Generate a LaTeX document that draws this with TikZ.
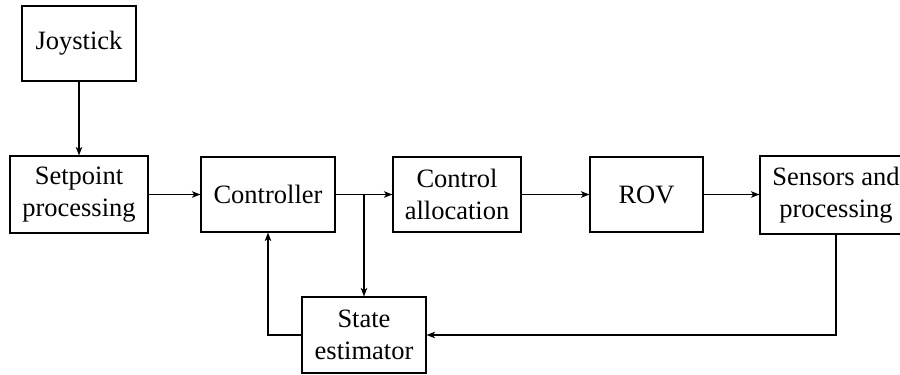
\documentclass[tikz,border=0pt]{standalone}
\usepackage{fontspec}
\setmainfont{Liberation Serif}
\usetikzlibrary{arrows.meta}
\begin{document}
\begin{tikzpicture}[x=0.4pt,y=-0.4pt,
  blk/.style={draw, line width=0.45pt, align=center, inner sep=1pt,
    font=\fontsize{10.6pt}{12.8pt}\selectfont},
  conn/.style={line width=0.45pt, -{Stealth[length=3.4pt,width=2.6pt,inset=0.9pt]}},
  plain/.style={line width=0.45pt}]
\useasboundingbox (0,0) rectangle (900,374);
\node[blk, minimum width=45.6pt, minimum height=30pt] (joy) at (79,43.5) {Joystick};
\node[blk, minimum width=55.2pt, minimum height=30.8pt] (set) at (79,194.5) {Setpoint\\processing};
\node[blk, minimum width=53.6pt, minimum height=30pt] (ctrl) at (268,194.5) {Controller};
\node[blk, minimum width=51.2pt, minimum height=30pt] (alloc) at (457,194.5) {Control\\allocation};
\node[blk, minimum width=45.2pt, minimum height=30pt] (rov) at (646.5,194.5) {ROV};
\node[blk, minimum width=60.8pt, minimum height=31.2pt] (sens) at (836,195) {Sensors and\\processing};
\node[blk, minimum width=49.6pt, minimum height=30.4pt] (est) at (364,335) {State\\estimator};
\coordinate (br) at (est.north |- ctrl.east);
\draw[conn] (joy.south) -- (set.north);
\draw[conn] (set.east) -- (ctrl.west);
\draw[conn] (ctrl.east) -- (alloc.west);
\draw[conn] (br) -- (est.north);
\draw[conn] (alloc.east) -- (rov.west);
\draw[conn] (rov.east) -- (rov.east -| sens.west);
\draw[conn] (sens.south) |- (est.east);
\draw[conn] (est.west) -| (ctrl.south);
\end{tikzpicture}
\end{document}
